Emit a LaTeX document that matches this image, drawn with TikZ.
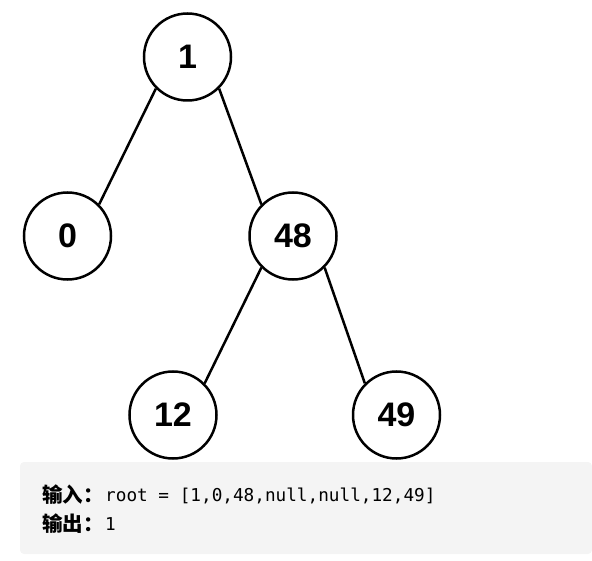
\documentclass[tikz,border=0pt]{standalone}
\usepackage{fontspec}
\usepackage{tikz}
\setmainfont{Liberation Sans}
\newfontfamily\cjkfont{Noto Sans CJK SC}
\newfontfamily\codefont{DejaVu Sans Mono}
\definecolor{codebg}{RGB}{244,244,244}

\begin{document}
\begin{tikzpicture}[x=1pt,y=-1pt,
    treenode/.style={circle,draw,line width=2.5pt,minimum size=87pt,inner sep=0pt,
      font=\fontsize{34}{34}\selectfont\bfseries},
    treeedge/.style={line width=2.5pt},
    cjktext/.style={anchor=base west,inner sep=0pt,font=\fontsize{20.5}{22}\cjkfont\bfseries},
    codetext/.style={anchor=base west,inner sep=0pt,font=\fontsize{17.7}{20}\codefont}]
            \useasboundingbox (0,0) rectangle (592,561);

            % the tree
            \node[treenode] (n1) at (187.5,57) {1};
            \node[treenode] (n0) at (67.5,236) {0};
            \node[treenode] (n48) at (293,236) {48};
            \node[treenode] (n12) at (173,415) {12};
            \node[treenode] (n49) at (396.5,415) {49};

            \draw[treeedge] (n1.south west) -- (n0.north east);
            \draw[treeedge] (n1.south east) -- (n48.north west);
            \draw[treeedge] (n48.south west) -- (n12.north east);
            \draw[treeedge] (n48.south east) -- (n49.north west);

            % the example box
            \fill[codebg, rounded corners=4pt] (20,462) rectangle (592,554);
            \node[cjktext] (inlabel) at (42,502) {输入：};
            \node[codetext] (incode) at (105,501) {root = [1,0,48,null,null,12,49]};
            \node[cjktext] (outlabel) at (42,531) {输出：};
            \node[codetext] (outcode) at (105,530) {1};
        \end{tikzpicture}
\end{document}
